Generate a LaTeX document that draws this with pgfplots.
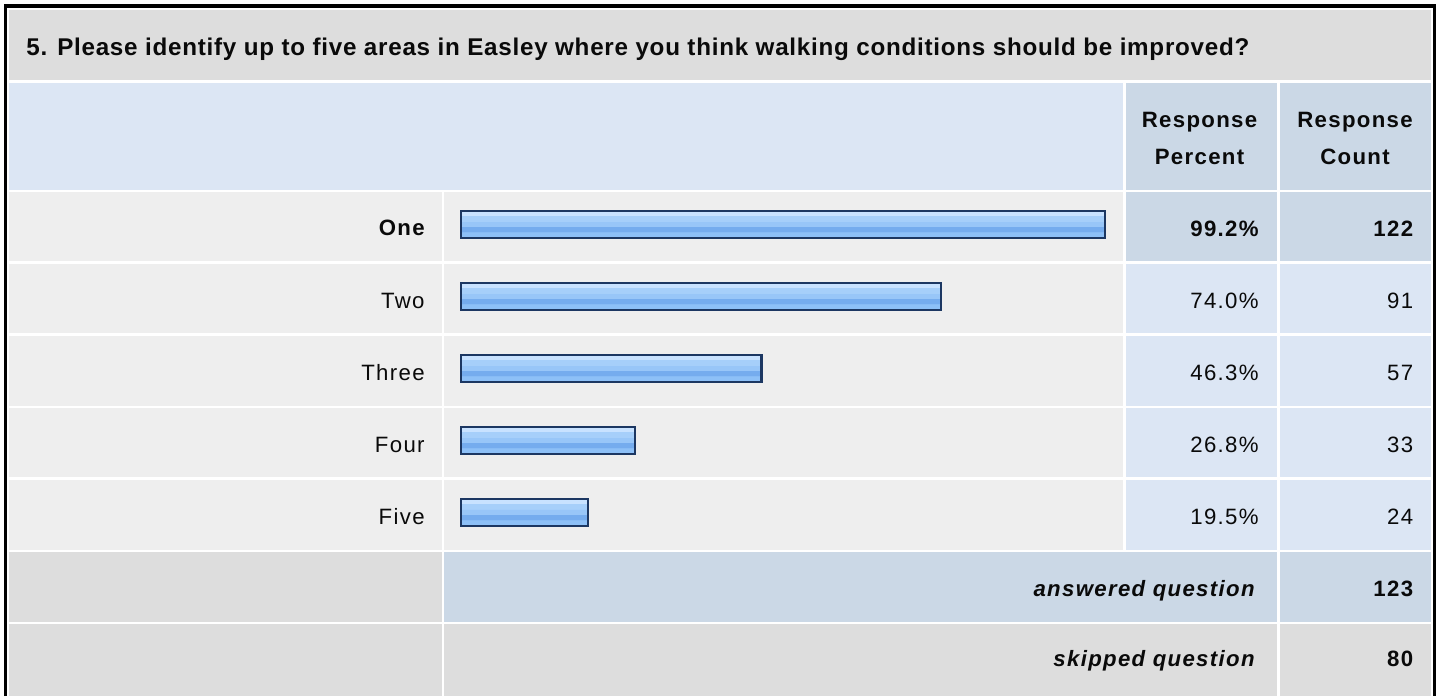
\documentclass[border=0pt]{standalone}
\usepackage{pgfplots}
\pgfplotsset{compat=1.18}
\usepackage{fontspec}
\setmainfont{Liberation Sans}
\newfontfamily\titlefont[LetterSpace=3.05]{Liberation Sans}
\newfontfamily\bodyfont[LetterSpace=6]{Liberation Sans}

\definecolor{titlebg}{HTML}{DDDDDD}
\definecolor{headlight}{HTML}{DCE6F4}
\definecolor{headdark}{HTML}{CBD8E6}
\definecolor{rowbg}{HTML}{EEEEEE}
\definecolor{barline}{HTML}{1C3762}
\definecolor{bA}{HTML}{C8E2FF}
\definecolor{bB}{HTML}{A6CFFA}
\definecolor{bC}{HTML}{98C6F8}
\definecolor{bD}{HTML}{75ACEE}
\definecolor{bE}{HTML}{8DC0F7}
\definecolor{txt}{HTML}{0A0A0A}

\pgfdeclareverticalshading{barshade}{100bp}{color(0bp)=(bE); color(25bp)=(bE); color(36bp)=(bE); color(36.5bp)=(bD); color(46bp)=(bD); color(46.5bp)=(bC); color(56bp)=(bC); color(56.5bp)=(bB); color(66bp)=(bB); color(66.5bp)=(bA); color(75bp)=(bA); color(100bp)=(bA)}

\tikzset{
  bodyb/.style={inner sep=0, text=txt, font=\bodyfont\bfseries\fontsize{11.1}{13}\selectfont},
  bodyr/.style={inner sep=0, text=txt, font=\bodyfont\fontsize{11.1}{13}\selectfont},
  bodybi/.style={inner sep=0, text=txt, font=\bodyfont\bfseries\itshape\fontsize{11.1}{13}\selectfont},
}
\pgfplotsset{barstyle/.style={xbar, bar shift=0pt, bar width=13.5pt, draw=barline, line width=1.05pt, shade, shading=barshade, mark=none}}

\begin{document}
\begin{tikzpicture}
% background table, in pixel coordinates
\begin{axis}[name=bg, at={(0,0)}, anchor=north west,
  width=720pt, height=348pt, scale only axis, hide axis, clip=false,
  xmin=0, xmax=1440, ymin=0, ymax=696, y dir=reverse]
\fill[white] (0,0) rectangle (1440,696);
% title
\fill[titlebg] (9,9.5) rectangle (1431,79.5);
% header
\fill[headlight] (9,83) rectangle (1123,189.5);
\fill[headdark] (1126,83) rectangle (1276.5,189.5);
\fill[headdark] (1279.5,83) rectangle (1431,189.5);
% row One
\fill[rowbg] (9,192) rectangle (441.5,261);
\fill[rowbg] (444,192) rectangle (1123,261);
\fill[headdark] (1126,192) rectangle (1276.5,261);
\fill[headdark] (1279.5,192) rectangle (1431,261);
% row Two
\fill[rowbg] (9,264) rectangle (441.5,333);
\fill[rowbg] (444,264) rectangle (1123,333);
\fill[headlight] (1126,264) rectangle (1276.5,333);
\fill[headlight] (1279.5,264) rectangle (1431,333);
% row Three
\fill[rowbg] (9,336) rectangle (441.5,405.5);
\fill[rowbg] (444,336) rectangle (1123,405.5);
\fill[headlight] (1126,336) rectangle (1276.5,405.5);
\fill[headlight] (1279.5,336) rectangle (1431,405.5);
% row Four
\fill[rowbg] (9,408) rectangle (441.5,477);
\fill[rowbg] (444,408) rectangle (1123,477);
\fill[headlight] (1126,408) rectangle (1276.5,477);
\fill[headlight] (1279.5,408) rectangle (1431,477);
% row Five
\fill[rowbg] (9,480) rectangle (441.5,549.5);
\fill[rowbg] (444,480) rectangle (1123,549.5);
\fill[headlight] (1126,480) rectangle (1276.5,549.5);
\fill[headlight] (1279.5,480) rectangle (1431,549.5);
% answered / skipped
\fill[titlebg] (9,552) rectangle (441.5,621.5);
\fill[headdark] (444,552) rectangle (1276.5,621.5);
\fill[headdark] (1279.5,552) rectangle (1431,621.5);
\fill[titlebg] (9,624) rectangle (441.5,696);
\fill[titlebg] (444,624) rectangle (1276.5,696);
\fill[titlebg] (1279.5,624) rectangle (1431,696);
% outer border
\draw[black, line width=1.6pt] (5.5,696) -- (5.5,6) -- (1434.8,6) -- (1434.8,696);
% texts
\node[anchor=base west, inner sep=0, text=txt, font=\titlefont\bfseries\fontsize{12.1}{14}\selectfont]
  at (26,55.7) {5. Please identify up to five areas in Easley where you think walking conditions should be improved?};
\node[anchor=base, bodyb] at (1199.5,127.7) {Response};
\node[anchor=base, bodyb] at (1199.5,164.3) {Percent};
\node[anchor=base, bodyb] at (1355,127.7) {Response};
\node[anchor=base, bodyb] at (1355,164.3) {Count};
% row labels and values
\node[anchor=base east, bodyb] at (425,235.5) {One};
\node[anchor=base east, bodyb] at (1259,236.2) {99.2\%};
\node[anchor=base east, bodyb] at (1413.5,236.2) {122};
\node[anchor=base east, bodyr] at (425,308) {Two};
\node[anchor=base east, bodyr] at (1259,308) {74.0\%};
\node[anchor=base east, bodyr] at (1413.5,308) {91};
\node[anchor=base east, bodyr] at (425,380) {Three};
\node[anchor=base east, bodyr] at (1259,380) {46.3\%};
\node[anchor=base east, bodyr] at (1413.5,380) {57};
\node[anchor=base east, bodyr] at (425,452) {Four};
\node[anchor=base east, bodyr] at (1259,452) {26.8\%};
\node[anchor=base east, bodyr] at (1413.5,452) {33};
\node[anchor=base east, bodyr] at (425,524) {Five};
\node[anchor=base east, bodyr] at (1259,524) {19.5\%};
\node[anchor=base east, bodyr] at (1413.5,524) {24};
\node[anchor=base east, bodybi] at (1255,596) {answered question};
\node[anchor=base east, bodyb] at (1413.5,596) {123};
\node[anchor=base east, bodybi] at (1255,666) {skipped question};
\node[anchor=base east, bodyb] at (1413.5,666) {80};
\end{axis}
% bars
\begin{axis}[at={(230.5pt,-94.25pt)}, anchor=north west,
  width=324.5pt, height=180pt, scale only axis, hide axis, clip=false,
  xmin=0, xmax=100, ymin=0.5, ymax=5.5, y dir=reverse]
\addplot[barstyle] coordinates {(99.2,1)};
\addplot[barstyle] coordinates {(74.0,2)};
\addplot[barstyle] coordinates {(46.3,3)};
\addplot[barstyle] coordinates {(26.8,4)};
\addplot[barstyle] coordinates {(19.5,5)};
\end{axis}
\end{tikzpicture}
\end{document}
